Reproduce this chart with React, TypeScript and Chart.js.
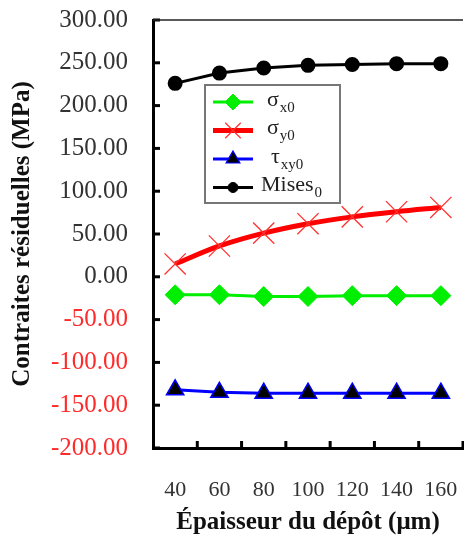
import React, { useEffect, useRef } from "react";
import { Chart, registerables } from "chart.js";
import { drawPoint } from "chart.js/helpers";

Chart.register(...registerables);

const thickness = ["40", "60", "80", "100", "120", "140", "160"];
const sigmaX0 = [-21, -21, -23, -23, -22, -22, -22];
const sigmaY0 = [15, 36, 51, 62, 70, 76, 81];
const tauXY0 = [-132, -135, -136, -136, -136, -136, -136];
const mises0 = [226, 238, 244, 247, 248, 249, 249];

const yTitle = "Contraites résiduelles (MPa)";
const xTitle = "Épaisseur du dépôt (μm)";

const SERIF = "'Liberation Serif', 'Times New Roman', serif";

const legendItems = [
  { main: "σ", sub: "x0", color: "#00ee00", line: 3, style: "rectRot", r: 8, fill: "#00ee00", stroke: "#00ee00", bw: 1, dx: 0 },
  { main: "σ", sub: "y0", color: "#ff0000", line: 5, style: "crossRot", r: 11, fill: "#ff2020", stroke: "#ff3030", bw: 1.2, dx: 0 },
  { main: "τ", sub: "xy0", color: "#0000ff", line: 3, style: "triangle", r: 8, fill: "#000000", stroke: "#0000ff", bw: 1.2, dx: 4 },
  { main: "Mises", sub: "0", color: "#000000", line: 3, style: "circle", r: 5, fill: "#000000", stroke: "#000000", bw: 1, dx: -6 },
];

const framePlugin = {
  id: "frame",
  beforeDatasetsDraw(chart: any) {
    const { ctx, chartArea } = chart;
    const xs = chart.scales.x;
    const ys = chart.scales.y;
    ctx.save();
    ctx.strokeStyle = "#000";
    ctx.lineWidth = 3;
    ys.ticks.forEach((t: any) => {
      const p = ys.getPixelForValue(t.value);
      ctx.beginPath();
      ctx.moveTo(chartArea.left, p);
      ctx.lineTo(chartArea.left + 7, p);
      ctx.stroke();
    });
    for (let i = 0; i < thickness.length; i++) {
      const p = xs.getPixelForValue(i + 0.5);
      ctx.beginPath();
      ctx.moveTo(p, chartArea.bottom);
      ctx.lineTo(p, chartArea.bottom - 7);
      ctx.stroke();
    }
    ctx.lineWidth = 1.5;
    ctx.strokeStyle = "#222";
    ctx.beginPath();
    ctx.moveTo(chartArea.left, chartArea.top);
    ctx.lineTo(chartArea.right, chartArea.top);
    ctx.stroke();
    ctx.restore();
  },
};

const legendPlugin = {
  id: "innerLegend",
  afterDraw(chart: any) {
    const { ctx, chartArea } = chart;
    const bx = chartArea.left + 52;
    const by = chartArea.top + 65;
    const bw = 135;
    const bh = 118;
    ctx.save();
    ctx.fillStyle = "#fff";
    ctx.fillRect(bx, by, bw, bh);
    ctx.strokeStyle = "#777";
    ctx.lineWidth = 2;
    ctx.strokeRect(bx, by, bw, bh);
    legendItems.forEach((it, i) => {
      const cy = by + 17 + i * 28.5;
      const x0 = bx + 8;
      const x1 = bx + 48;
      ctx.strokeStyle = it.color;
      ctx.lineWidth = it.line;
      ctx.beginPath();
      ctx.moveTo(x0, cy);
      ctx.lineTo(x1, cy);
      ctx.stroke();
      ctx.fillStyle = it.fill;
      ctx.strokeStyle = it.stroke;
      ctx.lineWidth = it.bw;
      drawPoint(ctx, { pointStyle: it.style, rotation: 0, radius: it.r, borderWidth: it.bw } as any, (x0 + x1) / 2, cy);
      const tx = bx + 62 + it.dx;
      ctx.fillStyle = "#222";
      ctx.textBaseline = "middle";
      ctx.textAlign = "left";
      ctx.font = `22px ${SERIF}`;
      ctx.fillText(it.main, tx, cy - 2);
      const w = ctx.measureText(it.main).width;
      ctx.font = `15px ${SERIF}`;
      ctx.fillText(it.sub, tx + w + 1, cy + 6);
    });
    ctx.restore();
  },
};

export default function App() {
  const ref = useRef<HTMLCanvasElement | null>(null);
  useEffect(() => {
    if (!ref.current) return;
    const chart = new Chart(ref.current, {
      type: "line",
      data: {
        labels: thickness,
        datasets: [
          {
            label: "σx0",
            data: sigmaX0,
            borderColor: "#00ee00",
            backgroundColor: "#00ee00",
            borderWidth: 3,
            pointStyle: "rectRot",
            pointRadius: 10,
            pointBackgroundColor: "#00ee00",
            pointBorderColor: "#00ee00",
            pointBorderWidth: 1,
          },
          {
            label: "σy0",
            data: sigmaY0,
            borderColor: "#ff0000",
            backgroundColor: "#ff0000",
            borderWidth: 5,
            cubicInterpolationMode: "monotone",
            pointStyle: "crossRot",
            pointRadius: 15,
            pointBorderColor: "#ff3030",
            pointBorderWidth: 1.3,
          },
          {
            label: "τxy0",
            data: tauXY0,
            borderColor: "#0000ff",
            backgroundColor: "#000",
            borderWidth: 3,
            pointStyle: "triangle",
            pointRadius: 10,
            pointBackgroundColor: "#000",
            pointBorderColor: "#0000ff",
            pointBorderWidth: 1.5,
          },
          {
            label: "Mises0",
            data: mises0,
            borderColor: "#000",
            backgroundColor: "#000",
            borderWidth: 3,
            pointStyle: "circle",
            pointRadius: 6,
            pointBackgroundColor: "#000",
            pointBorderColor: "#000",
          },
        ],
      },
      options: {
        responsive: false,
        animation: false,
        layout: { autoPadding: false, padding: { top: 20, right: 1, left: 0, bottom: 0 } },
        plugins: { legend: { display: false }, tooltip: { enabled: false } },
        scales: {
          x: {
            type: "category",
            offset: true,
            grid: { offset: true, drawOnChartArea: false, drawTicks: true, tickLength: 27, tickColor: "rgba(0,0,0,0)" },
            border: { display: true, color: "#000", width: 3 },
            ticks: {
              color: "#333",
              padding: 2,
              maxRotation: 0,
              autoSkip: false,
              font: { family: SERIF, size: 22 },
            },
            title: {
              display: true,
              text: xTitle,
              color: "#111",
              font: { family: SERIF, size: 25, weight: "bold" },
              padding: { top: 0, bottom: 6 },
            },
            afterFit: (s: any) => {
              s.height = 96;
              s.paddingLeft = 0;
              s.paddingRight = 0;
            },
          },
          y: {
            min: -200,
            max: 300,
            grid: { drawOnChartArea: false, drawTicks: true, tickLength: 23, tickColor: "rgba(0,0,0,0)" },
            border: { display: true, color: "#000", width: 3 },
            ticks: {
              stepSize: 50,
              padding: 2,
              color: (c: any) => (c.tick && c.tick.value < 0 ? "#ff2a2a" : "#333"),
              font: { family: SERIF, size: 25 },
              callback: (v: any) => Number(v).toFixed(2),
            },
            title: {
              display: true,
              text: yTitle,
              color: "#111",
              font: { family: SERIF, size: 25, weight: "bold" },
              padding: { top: 8, bottom: 0 },
            },
            afterFit: (s: any) => {
              s.width = 153;
            },
          },
        },
      },
      plugins: [framePlugin, legendPlugin],
    });
    return () => chart.destroy();
  }, []);
  return (
    <div style={{ position: "fixed", left: 0, top: 0, width: 464, height: 544, background: "#fff" }}>
      <canvas ref={ref} width={464} height={544} />
    </div>
  );
}
